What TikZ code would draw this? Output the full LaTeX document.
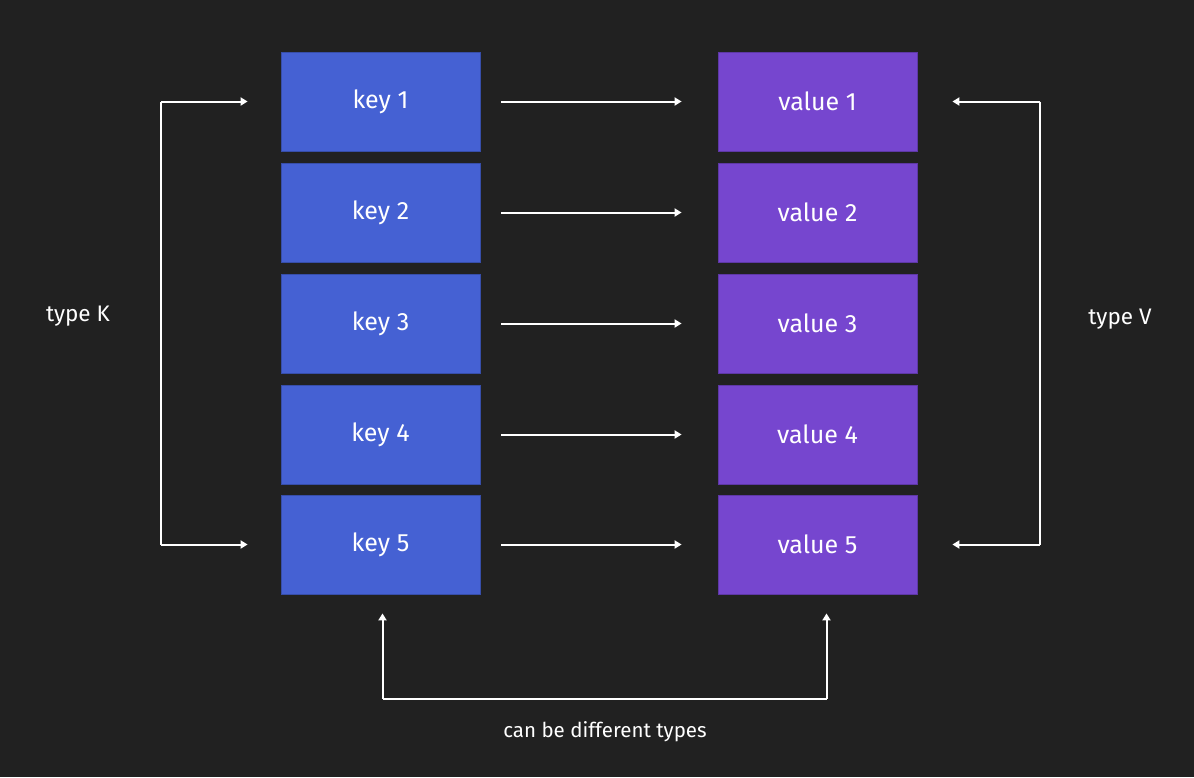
\documentclass[tikz,border=0pt]{standalone}
\usepackage{fontspec}
\setmainfont{Fira Sans}
\usetikzlibrary{arrows.meta}
\definecolor{bg}{HTML}{212121}
\definecolor{keyc}{HTML}{4561D3}
\definecolor{valc}{HTML}{7646CF}
\tikzset{
  box/.style={minimum width=199pt, minimum height=99pt, inner sep=0pt, text=white, font=\fontsize{25}{28}\selectfont},
  keybox/.style={box, fill=keyc, draw=keyc!80!black, line width=0.8pt},
  valbox/.style={box, fill=valc, draw=valc!80!black, line width=0.8pt},
  conn/.style={draw=white, line width=2pt, -{Triangle[length=7pt,width=8pt]}},
  line/.style={draw=white, line width=2pt},
  lbl/.style={text=white, font=\fontsize{22.5}{26}\selectfont},
  blbl/.style={text=white, font=\fontsize{20.5}{24}\selectfont}
}
\begin{document}
\begin{tikzpicture}[x=1pt,y=-1pt]
\fill[bg] (0,0) rectangle (1194,777);
\useasboundingbox (0,0) rectangle (1194,777);
\foreach \i/\y in {1/101.5,2/212.5,3/323.5,4/434.5,5/544.5}{
  \node[keybox] (k\i) at (380.5,\y) {key \i};
  \node[valbox] (v\i) at (817.5,\y) {value \i};
  \draw[conn] ([xshift=21pt]k\i.east) -- ([xshift=-36pt]v\i.west);
}
\node[lbl] (tk) at (78,316) {type K};
\node[lbl] (tv) at (1120,319) {type V};
\node[blbl] (cb) at (605,732) {can be different types};
% left bracket
\coordinate (lk1) at ([xshift=-33pt]k1.west);
\coordinate (lk5) at ([xshift=-33pt]k5.west);
\draw[line] (lk1 -| 161,0) -- (lk5 -| 161,0);
\draw[conn] (lk1 -| 161,0) -- (lk1);
\draw[conn] (lk5 -| 161,0) -- (lk5);
% right bracket
\coordinate (rv1) at ([xshift=35pt]v1.east);
\coordinate (rv5) at ([xshift=35pt]v5.east);
\draw[line] (rv1 -| 1040,0) -- (rv5 -| 1040,0);
\draw[conn] (rv1 -| 1040,0) -- (rv1);
\draw[conn] (rv5 -| 1040,0) -- (rv5);
% bottom
\coordinate (bk) at ([xshift=2pt,yshift=-19pt]k5.south);
\coordinate (bv) at ([xshift=9pt,yshift=-19pt]v5.south);
\draw[line] (bk |- 0,699) -- (bv |- 0,699);
\draw[conn] (bk |- 0,699) -- (bk);
\draw[conn] (bv |- 0,699) -- (bv);
\end{tikzpicture}
\end{document}
